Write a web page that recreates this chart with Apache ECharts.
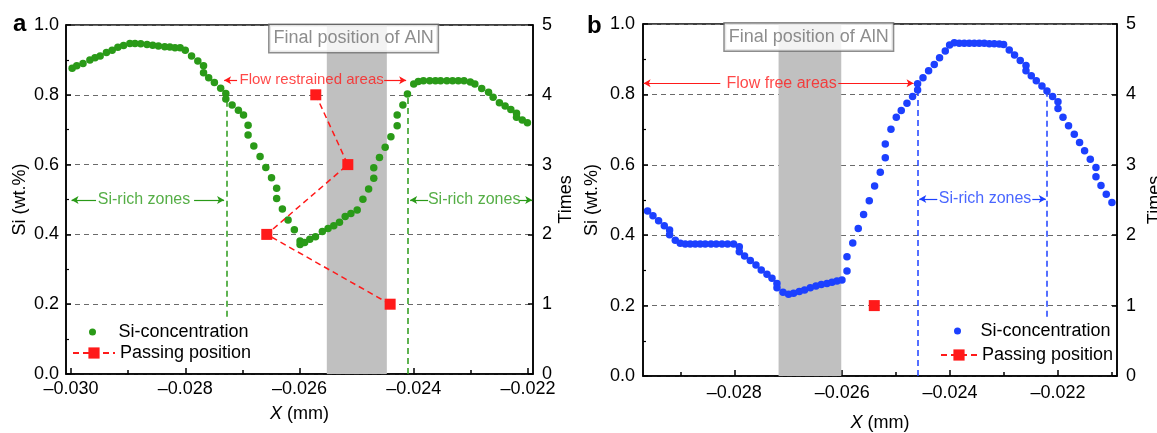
<!DOCTYPE html>
<html><head><meta charset="utf-8">
<script src="https://cdn.jsdelivr.net/npm/echarts@6/dist/echarts.min.js"></script>
<style>html,body{margin:0;padding:0;background:#fff}#c{width:1157px;height:433px}</style>
</head><body><div id="c"></div>
<script>
const FONT = 'Liberation Sans, Arial, sans-serif';
// ---------- Panel a data ----------
const siAX = [-0.02998,-0.02990,-0.02979,-0.02967,-0.02958,-0.02949,-0.02938,-0.02928,-0.02918,-0.02908,
  -0.02897,-0.02888,-0.02878,-0.02867,-0.02857,-0.02847,-0.02836,-0.02827,-0.02818,-0.02809,
  -0.02800,-0.02789,-0.02778,-0.02768,-0.02768,-0.02759,-0.02749,-0.02738,-0.02729,-0.02729,
  -0.02718,-0.02707,-0.02698,-0.02690,-0.02690,-0.02680,-0.02669,-0.02659,-0.02649,-0.02640,
  -0.02640,-0.02630,-0.02620,-0.02609,-0.02599,-0.02599,-0.02591,-0.02582,-0.02572,-0.02560,
  -0.02550,-0.02540,-0.02530,-0.02520,-0.02510,-0.02499,-0.02489,-0.02479,-0.02470,-0.02470,
  -0.02460,-0.02450,-0.02440,-0.02429,-0.02429,-0.02419,-0.02411,-0.02400,-0.02392,-0.02383,
  -0.02372,-0.02362,-0.02353,-0.02342,-0.02332,-0.02322,-0.02312,-0.02301,-0.02293,-0.02281,
  -0.02269,-0.02261,-0.02250,-0.02240,-0.02230,-0.02220,-0.02220,-0.02210,-0.02201];
const siAY = [0.876,0.883,0.890,0.900,0.906,0.911,0.921,0.928,0.936,0.941,
  0.947,0.947,0.946,0.944,0.942,0.940,0.938,0.937,0.935,0.935,
  0.928,0.911,0.897,0.883,0.863,0.849,0.835,0.819,0.804,0.788,
  0.771,0.756,0.742,0.713,0.685,0.653,0.623,0.592,0.562,0.532,
  0.503,0.473,0.441,0.413,0.381,0.371,0.377,0.386,0.393,0.408,
  0.417,0.425,0.435,0.451,0.460,0.470,0.501,0.530,0.561,0.591,
  0.620,0.650,0.680,0.711,0.742,0.771,0.802,0.831,0.838,0.840,
  0.840,0.840,0.840,0.840,0.840,0.840,0.840,0.837,0.831,0.818,
  0.807,0.793,0.777,0.768,0.758,0.747,0.736,0.728,0.720];
const passAX = [-0.024413,-0.026573,-0.025154,-0.025715];
const passAY = [1,2,3,4];
// ---------- Panel b data ----------
const siBX = [-0.029607,-0.029507,-0.029403,-0.029297,-0.029199,-0.029199,-0.029094,-0.029001,-0.028908,-0.028816,
  -0.028723,-0.028630,-0.028538,-0.028432,-0.028334,-0.028228,-0.028124,-0.028013,-0.027907,-0.027907,
  -0.027809,-0.027703,-0.027598,-0.027500,-0.027394,-0.027301,-0.027209,-0.027209,-0.027097,-0.026994,
  -0.026901,-0.026795,-0.026697,-0.026591,-0.026486,-0.026387,-0.026282,-0.026189,-0.026096,-0.026004,
  -0.025911,-0.025911,-0.025804,-0.025702,-0.025603,-0.025498,-0.025399,-0.025294,-0.025201,-0.025201,
  -0.025096,-0.024997,-0.024905,-0.024799,-0.024695,-0.024602,-0.024602,-0.024502,-0.024398,-0.024293,
  -0.024195,-0.024089,-0.024009,-0.023922,-0.023830,-0.023737,-0.023644,-0.023551,-0.023459,-0.023366,
  -0.023273,-0.023181,-0.023088,-0.023008,-0.022903,-0.022805,-0.022699,-0.022593,-0.022593,-0.022495,
  -0.022402,-0.022297,-0.022204,-0.022100,-0.022000,-0.022000,-0.021907,-0.021804,-0.021698,-0.021600,
  -0.021507,-0.021401,-0.021296,-0.021296,-0.021203,-0.021105,-0.021000];
const siBY = [0.469,0.455,0.441,0.427,0.415,0.401,0.386,0.377,0.375,0.375,
  0.375,0.375,0.375,0.375,0.375,0.375,0.375,0.375,0.367,0.353,
  0.341,0.328,0.315,0.301,0.289,0.278,0.263,0.251,0.238,0.232,
  0.235,0.240,0.244,0.251,0.256,0.260,0.263,0.266,0.270,0.273,
  0.298,0.339,0.378,0.419,0.459,0.498,0.540,0.579,0.620,0.659,
  0.701,0.735,0.754,0.775,0.794,0.8125,0.830,0.847,0.867,0.885,
  0.904,0.923,0.940,0.947,0.945,0.945,0.945,0.945,0.945,0.945,
  0.944,0.944,0.943,0.942,0.926,0.912,0.896,0.882,0.867,0.853,
  0.839,0.824,0.810,0.794,0.779,0.760,0.735,0.711,0.687,0.663,
  0.640,0.616,0.592,0.566,0.541,0.516,0.493];
const passBX = [-0.025405];
const passBY = [1];
// ---------- axis ticks ----------
const xTicksA = [-0.030,-0.028,-0.026,-0.024,-0.022];
const xMinorA = [-0.029,-0.027,-0.025,-0.023];
const xTicksB = [-0.028,-0.026,-0.024,-0.022];
const xMinorB = [-0.029,-0.027,-0.025,-0.023,-0.021];
const bandA = [-0.025522,-0.024471];
const bandB = [-0.027179,-0.026017];

const GREEN = '#2a9a18', BLUE = '#1c40ff', RED = '#ff1a1a', GRAY = '#707070', GRID = '#6a6a6a';
const zip = (xs, ys) => xs.map((x, i) => [x, ys[i]]);
const fmtX = v => (v < 0 ? '\u2013' : '') + Math.abs(v).toFixed(3);

function seg(x1, y1, x2, y2, color, dashed, arrow) {
  return [
    {coord: [x1, y1], symbol: 'none', lineStyle: {color: color, width: dashed ? 1.5 : 1.2, type: dashed ? [6, 4] : 'solid'}, itemStyle: {color: color}},
    {coord: [x2, y2], symbol: arrow ? 'arrow' : 'none', symbolSize: arrow ? [6, 7] : 0, itemStyle: {color: color}}
  ];
}
const linesA = [
  seg(-0.02728, 0.164, -0.02728, 0.80, GREEN, true, false),
  seg(-0.02410, 0, -0.02410, 0.80, GREEN, true, false),
  seg(-0.029562, 0.4986, -0.029991, 0.4986, GREEN, false, true),
  seg(-0.027846, 0.4986, -0.027320, 0.4986, GREEN, false, true),
  seg(-0.023748, 0.4986, -0.024063, 0.4986, GREEN, false, true),
  seg(-0.022154, 0.4986, -0.021926, 0.4986, GREEN, false, true),
  seg(-0.027093, 0.842, -0.027320, 0.842, RED, false, true),
  seg(-0.024518, 0.842, -0.024133, 0.842, RED, false, true)
];
const linesB = [
  seg(-0.024595, 0, -0.024595, 0.805, BLUE, true, false),
  seg(-0.022217, 0.168, -0.022217, 0.805, BLUE, true, false),
  seg(-0.024237, 0.503, -0.024571, 0.503, BLUE, false, true),
  seg(-0.022476, 0.503, -0.022226, 0.503, BLUE, false, true),
  seg(-0.028259, 0.8315, -0.029681, 0.8315, RED, false, true),
  seg(-0.026072, 0.8315, -0.024677, 0.8315, RED, false, true)
];
const boxStyle = {backgroundColor: '#fff', borderColor: GRAY, borderWidth: 1.5, padding: [3, 4, 3, 4], lineHeight: 21};
const textsA = [
  {t: 'Final position of AlN', x: -0.025053, y: 0.9613, c: GRAY, s: 18, box: true},
  {t: 'Flow restrained areas', x: -0.025788, y: 0.842, c: RED, s: 15},
  {t: 'Si-rich zones', x: -0.028722, y: 0.4986, c: GREEN, s: 16},
  {t: 'Si-rich zones', x: -0.022942, y: 0.4986, c: GREEN, s: 16}
];
const textsB = [
  {t: 'Final position of AlN', x: -0.026619, y: 0.963, c: GRAY, s: 18, box: true},
  {t: 'Flow free areas', x: -0.027123, y: 0.8315, c: RED, s: 16},
  {t: 'Si-rich zones', x: -0.023351, y: 0.503, c: BLUE, s: 16}
];

function xAxes(grid, min, max, ticks, minor, labelMargin, nameGap) {
  return [
    {gridIndex: grid, type: 'value', position: 'bottom', min: min, max: max,
     axisLine: {show: true, onZero: false, lineStyle: {color: '#000', width: 1.5}},
     axisTick: {show: true, inside: true, length: 6, customValues: ticks, lineStyle: {color: '#000', width: 1.5}},
     axisLabel: {customValues: ticks, formatter: fmtX, fontSize: 18, color: '#000', fontFamily: FONT, margin: labelMargin},
     splitLine: {show: false},
     name: '{i|X} (mm)', nameLocation: 'middle', nameGap: nameGap,
     nameTextStyle: {fontSize: 18, color: '#000', fontFamily: FONT,
       rich: {i: {fontStyle: 'italic', fontSize: 18, color: '#000', fontFamily: FONT}}}},
    {gridIndex: grid, type: 'value', position: 'bottom', min: min, max: max,
     axisLine: {show: false, onZero: false},
     axisTick: {show: true, inside: true, length: 4, customValues: minor, lineStyle: {color: '#000', width: 1.5}},
     axisLabel: {show: false}, splitLine: {show: false}}
  ];
}
function yAxes(grid, siGap, timesGap, siMargin) {
  return [
    {gridIndex: grid, type: 'value', position: 'left', min: 0, max: 1, interval: 0.2,
     axisLine: {show: true, onZero: false, lineStyle: {color: '#000', width: 1.5}},
     axisTick: {show: true, inside: true, length: 5, lineStyle: {color: '#000', width: 1.5}},
     minorTick: {show: true, splitNumber: 2, length: 3, lineStyle: {color: '#000', width: 1.2}},
     axisLabel: {formatter: v => v.toFixed(1), fontSize: 18, color: '#000', fontFamily: FONT, margin: siMargin},
     splitLine: {show: true, lineStyle: {color: GRID, width: 1.2, type: [5, 4]}},
     name: 'Si (wt.%)', nameLocation: 'middle', nameGap: siGap, nameRotate: 90,
     nameTextStyle: {fontSize: 18, color: '#000', fontFamily: FONT}},
    {gridIndex: grid, type: 'value', position: 'right', min: 0, max: 5, interval: 1,
     axisLine: {show: true, onZero: false, lineStyle: {color: '#000', width: 1.5}},
     axisTick: {show: true, inside: true, length: 5, lineStyle: {color: '#000', width: 1.5}},
     axisLabel: {fontSize: 18, color: '#000', fontFamily: FONT, margin: 9},
     splitLine: {show: false},
     name: 'Times', nameLocation: 'middle', nameGap: timesGap, nameRotate: 90,
     nameTextStyle: {fontSize: 18, color: '#000', fontFamily: FONT}}
  ];
}
function panelSeries(xi, yi, band, lines, texts, si, pass, color, tag) {
  return [
    {type: 'line', xAxisIndex: xi, yAxisIndex: yi, data: [], z: 1, silent: true,
     markArea: {silent: true, itemStyle: {color: '#c0c0c0', opacity: 1}, data: [[{xAxis: band[0]}, {xAxis: band[1]}]]}},
    {type: 'line', xAxisIndex: xi, yAxisIndex: yi, data: [], z: 2, silent: true,
     markLine: {silent: true, animation: false, label: {show: false}, symbol: ['none', 'none'], data: lines}},
    {type: 'scatter', name: 'Si-concentration#' + tag, xAxisIndex: xi, yAxisIndex: yi, data: si,
     symbol: 'circle', symbolSize: 7.5, itemStyle: {color: color, opacity: 1}, z: 3},
    {type: 'line', name: 'Passing position#' + tag, xAxisIndex: xi, yAxisIndex: yi + 1, data: pass,
     symbol: 'rect', symbolSize: 11, showSymbol: true, itemStyle: {color: RED, opacity: 1},
     lineStyle: {color: RED, width: 1.5, type: [6, 4]}, z: 4},
    {type: 'scatter', xAxisIndex: xi, yAxisIndex: yi, z: 6, silent: true, symbolSize: 1,
     itemStyle: {color: 'transparent'},
     label: {show: true, position: 'inside', fontFamily: FONT},
     data: texts.map(t => ({value: [t.x, t.y],
       label: Object.assign({show: true, position: 'inside', formatter: t.t, color: t.c, fontSize: t.s, fontFamily: FONT}, t.box ? boxStyle : {})}))}
  ];
}
function legend(name, left, top, iw, ih) {
  return {data: [name], left: left, top: top, orient: 'vertical', padding: 0, itemGap: 0,
    itemWidth: iw, itemHeight: ih, selectedMode: false,
    formatter: n => n.replace(/#.*/, ''),
    textStyle: {fontSize: 18, color: '#000', fontFamily: FONT}};
}

const chart = echarts.init(document.getElementById('c'), null, {renderer: 'canvas'});
chart.setOption({
  animation: false,
  backgroundColor: '#fff',
  textStyle: {fontFamily: FONT},
  grid: [
    {left: 66, top: 25, width: 467, height: 349, show: true, borderColor: '#000', borderWidth: 1.5, outerBoundsMode: 'none', containLabel: false},
    {left: 643, top: 24, width: 474, height: 352, show: true, borderColor: '#000', borderWidth: 1.5, outerBoundsMode: 'none', containLabel: false}
  ],
  xAxis: [].concat(
    xAxes(0, -0.030088, -0.021912, xTicksA, xMinorA, 6, 31),
    xAxes(1, -0.029692, -0.020906, xTicksB, xMinorB, 8, 38)),
  yAxis: [].concat(yAxes(0, 37, 24, 7), yAxes(1, 42, 29, 8)),
  legend: [
    legend('Si-concentration#a', 89, 323, 42, 7),
    legend('Passing position#a', 72, 344, 42, 14),
    legend('Si-concentration#b', 954, 322, 36, 7),
    legend('Passing position#b', 940, 346, 36, 14)
  ],
  graphic: [
    {type: 'text', left: 13, top: 12, style: {text: 'a', font: 'bold 24px ' + FONT, fill: '#000'}},
    {type: 'text', left: 587, top: 14, style: {text: 'b', font: 'bold 24px ' + FONT, fill: '#000'}}
  ],
  series: [].concat(
    panelSeries(0, 0, bandA, linesA, textsA, zip(siAX, siAY), zip(passAX, passAY), GREEN, 'a'),
    panelSeries(2, 2, bandB, linesB, textsB, zip(siBX, siBY), zip(passBX, passBY), BLUE, 'b'))
});
</script></body></html>
